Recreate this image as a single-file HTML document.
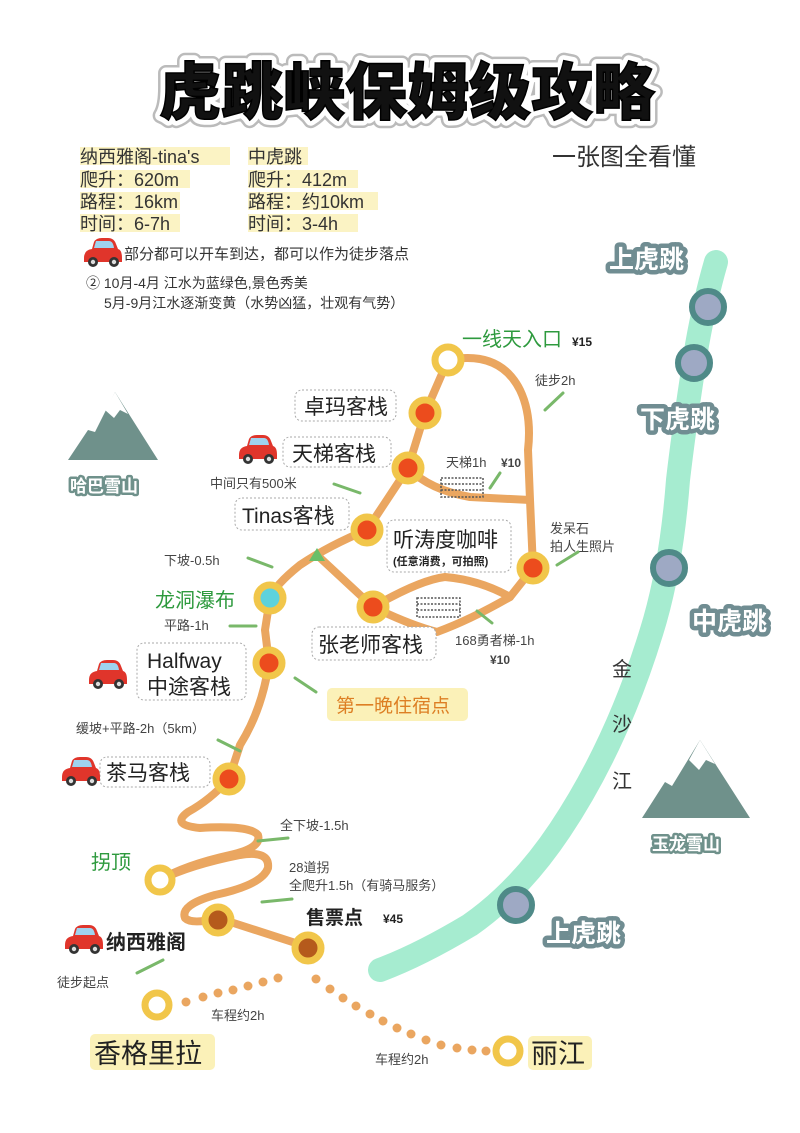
<!DOCTYPE html>
<html><head><meta charset="utf-8"><style>
html,body{margin:0;padding:0;background:#fff;}
svg{display:block;}
text{font-family:"Liberation Sans","Noto Sans CJK SC",sans-serif;}
</style></head><body>
<svg width="800" height="1133" viewBox="0 0 800 1133" xmlns="http://www.w3.org/2000/svg">
<defs>
<g id="car">
 <path d="M2,20 Q2,12 10,11 L12,4 Q14,0 20,0 L26,0 Q32,0 34,6 L36,11 Q40,12 40,20 L40,24 L2,24 Z" fill="#e0352b"/>
 <path d="M14,3 L27,3 Q31,3 32,10 L12,10 Z" fill="#9fd3ef"/>
 <circle cx="11" cy="24" r="5" fill="#333"/><circle cx="11" cy="24" r="2.2" fill="#ddd"/>
 <circle cx="32" cy="24" r="5" fill="#333"/><circle cx="32" cy="24" r="2.2" fill="#ddd"/>
</g>
</defs>
<rect width="800" height="1133" fill="#fff"/>

<!-- Title -->
<g font-size="62" font-weight="900" font-family="'Noto Sans CJK SC',sans-serif" text-anchor="middle">
<text x="407" y="114" stroke="#bbb" stroke-width="16" stroke-linejoin="round" fill="#bbb">虎跳峡保姆级攻略</text>
<text x="407" y="114" stroke="#fff" stroke-width="11" stroke-linejoin="round" fill="#fff">虎跳峡保姆级攻略</text>
<text x="407" y="114" stroke="#000" stroke-width="1.5" fill="#111">虎跳峡保姆级攻略</text>
</g>
<text x="552" y="165" font-size="24" fill="#333">一张图全看懂</text>

<!-- info -->
<g font-size="18" fill="#333">
<rect x="80" y="147" width="150" height="18" fill="#fbf3c4"/>
<rect x="80" y="170" width="110" height="18" fill="#fbf3c4"/>
<rect x="80" y="192" width="100" height="18" fill="#fbf3c4"/>
<rect x="80" y="214" width="100" height="18" fill="#fbf3c4"/>
<rect x="248" y="147" width="60" height="18" fill="#fbf3c4"/>
<rect x="248" y="170" width="110" height="18" fill="#fbf3c4"/>
<rect x="248" y="192" width="130" height="18" fill="#fbf3c4"/>
<rect x="248" y="214" width="110" height="18" fill="#fbf3c4"/>
<text x="80" y="163">纳西雅阁-tina's</text>
<text x="80" y="186">爬升：620m</text>
<text x="80" y="208">路程：16km</text>
<text x="80" y="230">时间：6-7h</text>
<text x="248" y="163">中虎跳</text>
<text x="248" y="186">爬升：412m</text>
<text x="248" y="208">路程：约10km</text>
<text x="248" y="230">时间：3-4h</text>
</g>
<use href="#car" x="82" y="238"/>
<text x="124" y="259" font-size="15" fill="#333">部分都可以开车到达，都可以作为徒步落点</text>
<text x="86" y="288" font-size="14" fill="#333">② 10月-4月 江水为蓝绿色,景色秀美</text>
<text x="104" y="308" font-size="14" fill="#333">5月-9月江水逐渐变黄（水势凶猛，壮观有气势）</text>

<!-- river -->
<path d="M716,262 Q705,300 697,345 Q685,420 678,480 Q672,560 655,620 Q620,740 560,830 Q520,890 470,925 Q420,955 380,970" fill="none" stroke="#a6ecd0" stroke-width="24" stroke-linecap="round"/>
<g fill="#9ea9c4" stroke="#4f8a88" stroke-width="6">
<circle cx="708" cy="307" r="16"/><circle cx="694" cy="363" r="16"/><circle cx="669" cy="568" r="16"/><circle cx="516" cy="905" r="16"/>
</g>
<g font-size="25" font-weight="bold" fill="#fff" stroke="#708d92" stroke-width="9" stroke-linejoin="round" paint-order="stroke" font-family="'Noto Sans CJK SC',sans-serif">
<text x="609" y="268">上虎跳</text>
<text x="640" y="428">下虎跳</text>
<text x="692" y="630">中虎跳</text>
<text x="546" y="942">上虎跳</text>
</g>
<g font-size="20" fill="#333"><text x="612" y="676">金</text><text x="612" y="731">沙</text><text x="612" y="788">江</text></g>

<!-- mountains -->
<path d="M115,392 L158,460 L68,460 L88,430 L95,432 Z" fill="#6f918b"/>
<path d="M115,392 L128,414 L120,410 L114,418 L105,410 Z" fill="#fff"/>
<path d="M700,740 L750,818 L642,818 L665,782 L672,786 Z" fill="#6f918b"/>
<path d="M700,740 L715,764 L706,760 L699,770 L689,760 Z" fill="#fff"/>
<g font-size="17" font-weight="bold" fill="#fff" stroke="#6f918b" stroke-width="5" stroke-linejoin="round" paint-order="stroke" font-family="'Noto Sans CJK SC',sans-serif">
<text x="70" y="492">哈巴雪山</text>
<text x="652" y="850">玉龙雪山</text>
</g>

<!-- trail -->
<g fill="none" stroke="#eaa660" stroke-width="8" stroke-linecap="round" stroke-linejoin="round">
<path d="M448,360 L425,413 L408,468 L367,530 Q330,545 300,565 Q275,585 270,598 L265,630 L269,663 Q262,710 240,745 L229,779 Q210,800 188,812 Q170,825 200,828 Q250,825 258,835 Q262,848 230,855 Q185,865 160,880 Q190,865 240,855 Q270,850 268,868 Q262,885 215,895 Q180,905 185,918 Q192,925 218,918 L308,947"/>
<path d="M448,360 Q500,350 520,390 Q532,415 528,450 L530,500 L533,568"/>
<path d="M408,468 Q430,490 470,497 L530,500"/>
<path d="M317,555 L373,607 Q420,580 445,577 Q480,580 510,597 L533,568"/>
<path d="M373,607 Q410,625 437,632 Q470,620 510,597"/>
</g>
<path d="M317,548 L309,561 L325,561 Z" fill="#6abf69"/>
<!-- ladders -->
<g stroke="#555" stroke-width="1.5" stroke-dasharray="2,1.5" fill="none">
<rect x="441" y="478" width="42" height="19"/><line x1="441" y1="484" x2="483" y2="484"/><line x1="441" y1="490" x2="483" y2="490"/>
<rect x="417" y="598" width="43" height="19"/><line x1="417" y1="604" x2="460" y2="604"/><line x1="417" y1="610" x2="460" y2="610"/>
</g>

<!-- dotted car routes -->
<g fill="#eaa660">
<circle cx="186" cy="1002" r="4.5"/><circle cx="203" cy="997" r="4.5"/><circle cx="218" cy="993" r="4.5"/><circle cx="233" cy="990" r="4.5"/><circle cx="248" cy="986" r="4.5"/><circle cx="263" cy="982" r="4.5"/><circle cx="278" cy="978" r="4.5"/>
<circle cx="316" cy="979" r="4.5"/><circle cx="330" cy="989" r="4.5"/><circle cx="343" cy="998" r="4.5"/><circle cx="356" cy="1006" r="4.5"/><circle cx="370" cy="1014" r="4.5"/><circle cx="383" cy="1021" r="4.5"/><circle cx="397" cy="1028" r="4.5"/><circle cx="411" cy="1034" r="4.5"/><circle cx="426" cy="1040" r="4.5"/><circle cx="441" cy="1045" r="4.5"/><circle cx="457" cy="1048" r="4.5"/><circle cx="472" cy="1050" r="4.5"/><circle cx="486" cy="1051" r="4.5"/>
</g>

<!-- nodes -->
<g stroke="#f1c64a" stroke-width="7">
<circle cx="448" cy="360" r="13" fill="#fff"/>
<circle cx="425" cy="413" r="13" fill="#ec4c1d"/>
<circle cx="408" cy="468" r="13" fill="#ec4c1d"/>
<circle cx="367" cy="530" r="13" fill="#ec4c1d"/>
<circle cx="533" cy="568" r="13" fill="#ec4c1d"/>
<circle cx="373" cy="607" r="13" fill="#ec4c1d"/>
<circle cx="270" cy="598" r="13" fill="#5ed2dc"/>
<circle cx="269" cy="663" r="13" fill="#ec4c1d"/>
<circle cx="229" cy="779" r="13" fill="#ec4c1d"/>
<circle cx="160" cy="880" r="12" fill="#fff"/>
<circle cx="218" cy="920" r="13" fill="#b55a1c"/>
<circle cx="308" cy="948" r="13" fill="#b55a1c"/>
<circle cx="157" cy="1005" r="12" fill="#fff"/>
<circle cx="508" cy="1051" r="12" fill="#fff"/>
</g>

<!-- label boxes -->
<g fill="#fff" stroke="#aaa" stroke-width="1" stroke-dasharray="2,2">
<rect x="295" y="390" width="101" height="31" rx="7"/>
<rect x="283" y="437" width="108" height="30" rx="7"/>
<rect x="235" y="498" width="114" height="32" rx="7"/>
<rect x="387" y="520" width="124" height="52" rx="7"/>
<rect x="312" y="627" width="124" height="33" rx="7"/>
<rect x="137" y="643" width="109" height="57" rx="7"/>
<rect x="100" y="757" width="110" height="30" rx="7"/>
</g>
<g font-size="21" fill="#222">
<text x="304" y="414">卓玛客栈</text>
<text x="292" y="461">天梯客栈</text>
<text x="242" y="523">Tinas客栈</text>
<text x="393" y="547">听涛度咖啡</text>
<text x="318" y="652">张老师客栈</text>
<text x="147" y="668">Halfway</text>
<text x="147" y="694">中途客栈</text>
<text x="106" y="780">茶马客栈</text>
</g>
<text x="393" y="565" font-size="11" font-weight="bold" fill="#222">(任意消费，可拍照)</text>
<use href="#car" x="237" y="435"/>
<use href="#car" x="87" y="660"/>
<use href="#car" x="60" y="757"/>
<use href="#car" x="63" y="925"/>

<rect x="327" y="688" width="141" height="33" rx="5" fill="#fbf1b8"/>
<text x="336" y="712" font-size="19" fill="#dd7f24">第一晚住宿点</text>

<g fill="#2e9a3e" font-size="20">
<text x="462" y="346">一线天入口</text>
<text x="155" y="607">龙洞瀑布</text>
<text x="91" y="869">拐顶</text>
</g>
<text x="572" y="346" font-size="12" font-weight="bold" fill="#222">¥15</text>
<text x="306" y="924" font-size="19" font-weight="bold" fill="#222">售票点</text>
<text x="383" y="923" font-size="12" font-weight="bold" fill="#222">¥45</text>
<text x="106" y="949" font-size="20" font-weight="bold" fill="#222">纳西雅阁</text>

<!-- annotations -->
<g font-size="13" fill="#444">
<text x="535" y="385">徒步2h</text>
<text x="446" y="467">天梯1h</text>
<text x="501" y="467" font-weight="bold" font-size="12">¥10</text>
<text x="210" y="488">中间只有500米</text>
<text x="550" y="533">发呆石</text>
<text x="550" y="551">拍人生照片</text>
<text x="164" y="565">下坡-0.5h</text>
<text x="164" y="630">平路-1h</text>
<text x="455" y="645">168勇者梯-1h</text>
<text x="490" y="664" font-weight="bold" font-size="12">¥10</text>
<text x="76" y="733">缓坡+平路-2h（5km）</text>
<text x="280" y="830">全下坡-1.5h</text>
<text x="289" y="872">28道拐</text>
<text x="289" y="890">全爬升1.5h（有骑马服务）</text>
<text x="57" y="987">徒步起点</text>
<text x="211" y="1020">车程约2h</text>
<text x="375" y="1064">车程约2h</text>
</g>
<g stroke="#79b86a" stroke-width="3" stroke-linecap="round">
<line x1="563" y1="393" x2="545" y2="410"/>
<line x1="500" y1="473" x2="490" y2="488"/>
<line x1="334" y1="484" x2="360" y2="493"/>
<line x1="578" y1="552" x2="557" y2="565"/>
<line x1="248" y1="558" x2="272" y2="567"/>
<line x1="230" y1="626" x2="256" y2="626"/>
<line x1="477" y1="611" x2="492" y2="623"/>
<line x1="295" y1="678" x2="316" y2="692"/>
<line x1="218" y1="740" x2="240" y2="751"/>
<line x1="288" y1="838" x2="258" y2="841"/>
<line x1="292" y1="899" x2="262" y2="902"/>
<line x1="137" y1="973" x2="163" y2="960"/>
</g>

<!-- bottom city labels -->
<rect x="90" y="1034" width="125" height="36" rx="5" fill="#fbf1b8"/>
<text x="94" y="1063" font-size="27" fill="#222">香格里拉</text>
<rect x="528" y="1036" width="64" height="34" rx="5" fill="#fbf1b8"/>
<text x="531" y="1063" font-size="27" fill="#222">丽江</text>
</svg>
</body></html>
